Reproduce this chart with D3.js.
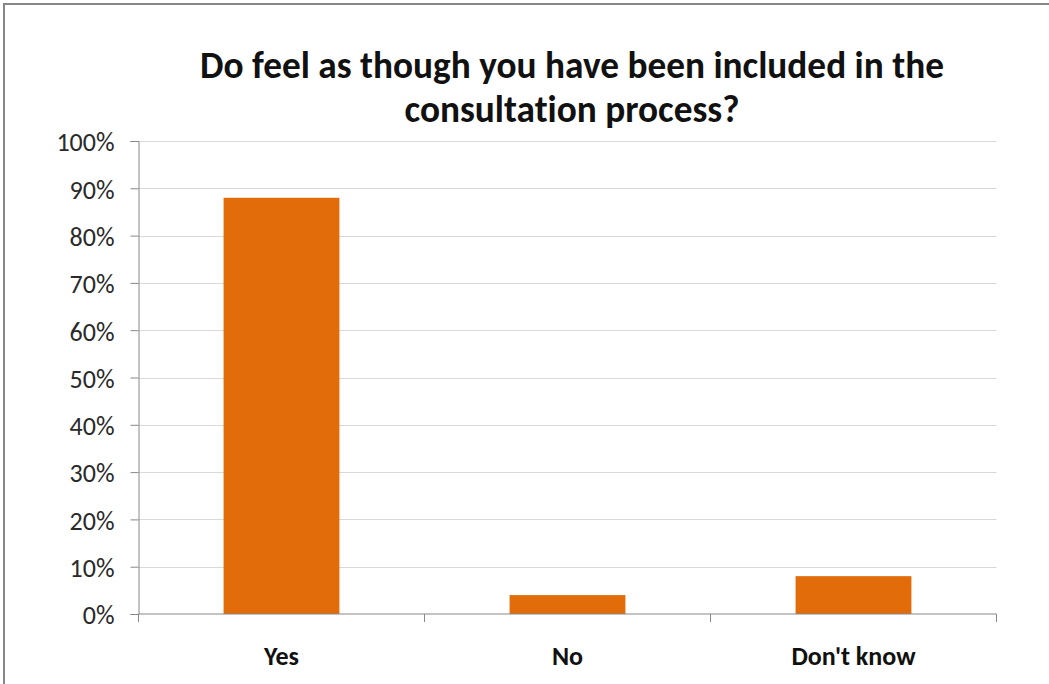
<!DOCTYPE html>
<html><head><meta charset="utf-8">
<script src="https://cdn.jsdelivr.net/npm/d3@7"></script>
<style>body{margin:0;background:#fff}svg{display:block}text{font-variant-ligatures:none}</style>
</head><body>
<svg id="c" width="1049" height="684"></svg>
<script>
const categories = ["Yes", "No", "Don't know"];
const values = [0.88, 0.04, 0.08];
const yTicks = [0, 0.1, 0.2, 0.3, 0.4, 0.5, 0.6, 0.7, 0.8, 0.9, 1.0];
const titleLines = ["Do feel as though you have been included in the", "consultation process?"];

const svg = d3.select("#c");
const font = "Carlito, Calibri, 'Liberation Sans', 'DejaVu Sans', sans-serif";
svg.append("rect").attr("x", 4).attr("y", 4).attr("width", 1060).attr("height", 700)
  .attr("fill", "#fff").attr("stroke", "#888").attr("stroke-width", 2);

const L = 138.5, R = 996.5, T = 141, B = 614;
const x = d3.scaleBand().domain(categories).range([L, R]).padding(0);
const y = d3.scaleLinear().domain([0, 1]).range([B, T]);

// gridlines
svg.append("g").selectAll("line").data(yTicks.filter(d => d > 0)).join("line")
  .attr("x1", L).attr("x2", R).attr("y1", d => Math.round(y(d)) + 0.5).attr("y2", d => Math.round(y(d)) + 0.5)
  .attr("stroke", "#d9d9d9").attr("stroke-width", 1);

// bars
const bw = x.bandwidth() * 0.405;
svg.append("g").selectAll("rect").data(values).join("rect")
  .attr("x", (d, i) => x(categories[i]) + (x.bandwidth() - bw) / 2)
  .attr("width", bw)
  .attr("y", d => y(d)).attr("height", d => B - y(d))
  .attr("fill", "#e36c0a");

// y axis
const yAxis = d3.axisLeft(y).tickValues(yTicks).tickFormat(d3.format(".0%")).tickSize(8).tickPadding(16);
const gy = svg.append("g").attr("transform", `translate(${L},0)`).call(yAxis);
gy.select(".domain").attr("stroke", "#888");
gy.selectAll(".tick line").attr("stroke", "#888");
gy.selectAll("text").attr("font-family", font).attr("font-size", 26).attr("fill", "#2a2a2a").attr("dy", "0.38em");

// x axis
const xAxis = d3.axisBottom(x).tickSize(0).tickPadding(0).tickFormat(() => "");
const gx = svg.append("g").attr("transform", `translate(0,${B})`).call(xAxis);
gx.select(".domain").attr("stroke", "#888").attr("d", `M${L},0H${R}`);
const bounds = [L, ...categories.map(c => x(c) + x.bandwidth())];
gx.selectAll(".sep").data(bounds).join("line").attr("class", "sep")
  .attr("x1", d => d).attr("x2", d => d).attr("y1", 0).attr("y2", 8).attr("stroke", "#888");
gx.selectAll(".lbl").data(categories).join("text").attr("class", "lbl")
  .attr("x", d => x(d) + x.bandwidth() / 2).attr("y", 51)
  .attr("text-anchor", "middle").attr("font-family", font).attr("font-weight", "bold")
  .attr("font-size", 26).attr("fill", "#111").text(d => d);

// title
const tl = svg.append("g");
const t1 = tl.append("text").attr("x", 572).attr("y", 78).attr("text-anchor", "middle")
  .attr("font-family", font).attr("font-weight", "bold").attr("font-size", 28).attr("fill", "#111").text(titleLines[0]);
const w = t1.node().getComputedTextLength();
const fs = 28 * 744 / w;
t1.attr("font-size", fs);
tl.append("text").attr("x", 572).attr("y", 122).attr("text-anchor", "middle")
  .attr("font-family", font).attr("font-weight", "bold").attr("font-size", fs).attr("fill", "#111").text(titleLines[1]);
</script>
</body></html>
